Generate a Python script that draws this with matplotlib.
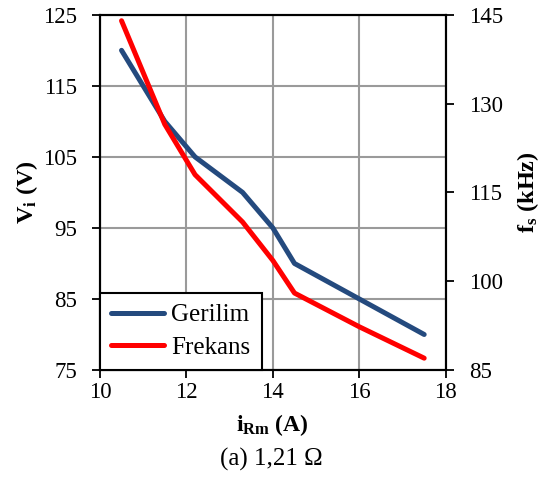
import matplotlib.pyplot as plt

plt.rcParams['font.family'] = ['Liberation Serif', 'DejaVu Serif']
plt.rcParams['mathtext.fontset'] = 'custom'
plt.rcParams['mathtext.bf'] = 'Liberation Serif:bold'
plt.rcParams['mathtext.rm'] = 'Liberation Serif'
plt.rcParams['mathtext.it'] = 'Liberation Serif:italic'

# load current (A)
current = [10.5, 11.5, 12.2, 13.3, 14.0, 14.5, 16.0, 17.5]
# input voltage (V)
voltage = [120, 110, 105, 100, 95, 90, 85, 80]
# switching frequency (kHz)
frequency = [144, 126.5, 118, 110, 103.5, 98, 92.3, 87]

fig = plt.figure(figsize=(5.43, 4.94), dpi=100)
ax = fig.add_axes([0.184, 0.251, 0.637, 0.719])
ax2 = ax.twinx()

l1, = ax.plot(current, voltage, color='#244A7E', lw=3.6, solid_capstyle='round',
              label='Gerilim')
l2, = ax2.plot(current, frequency, color='#FF0000', lw=3.6, solid_capstyle='round',
               label='Frekans')

ax.set_xlim(10, 18)
ax.set_ylim(75, 125)
ax.set_xticks([10, 12, 14, 16, 18])
ax.set_yticks([75, 85, 95, 105, 115, 125])
ax2.set_ylim(85, 145)
ax2.set_yticks([85, 100, 115, 130, 145])

ax.grid(True, color='#9a9a9a', lw=1.5)
ax.set_axisbelow(True)

for a in (ax, ax2):
    a.tick_params(labelsize=16.5, length=5.5, width=1.3, direction='out', pad=11)
    for s in a.spines.values():
        s.set_linewidth(1.5)
ax.tick_params(axis='x', pad=3)

ax.set_ylabel(r'$\mathbf{V_i}$ (V)', fontsize=17.5, fontweight='bold', labelpad=2)
ax2.set_ylabel(r'$\mathbf{f_s}$ (kHz)', fontsize=17.5, fontweight='bold',
               rotation=90, labelpad=9)
ax.set_xlabel(r'$\mathbf{i_{Rm}}$ (A)', fontsize=17, fontweight='bold', labelpad=7)

leg = ax2.legend(handles=[l1, l2], loc='lower left', fontsize=18, frameon=True,
                 fancybox=False, edgecolor='black', borderaxespad=0,
                 handlelength=2.1, handletextpad=0.3, borderpad=0.45,
                 labelspacing=0.4)
leg.get_frame().set_linewidth(1.5)
leg.get_frame().set_alpha(1)

fig.text(0.5, 1 - 459 / 494, '(a) 1,21 Ω', ha='center', va='center', fontsize=18)

fig.savefig('out.png', dpi=100)
